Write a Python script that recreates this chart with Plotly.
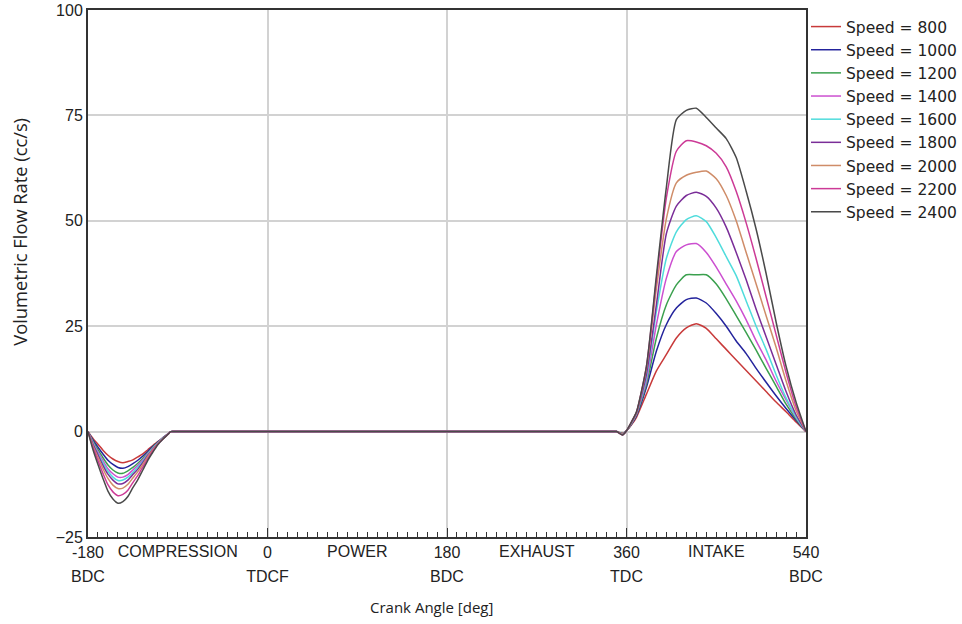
import plotly.graph_objects as go

# Crank angle samples (deg): compression dip, flat segment, intake stroke
crank_angle = [-180, -175, -170, -165, -160, -155, -150, -145, -140, -135, -130, -125, -120, -115, -110, -105, -100, -97, -90,
               340, 350, 356, 360, 365, 370, 380, 390, 400, 410, 420, 430, 440, 450, 460, 470, 480, 490, 500, 510, 520, 530, 540]

speeds = [800, 1000, 1200, 1400, 1600, 1800, 2000, 2200, 2400]
line_colors = ["#c83a3a", "#23239c", "#3aa04e", "#cc4fd0", "#4fdcdc",
               "#7a2d98", "#cf8c68", "#cc3a96", "#4a4a4a"]

# Volumetric flow rate (cc/s) for each engine speed
flow_800 = [0, -1.6, -3.0, -4.4, -5.6, -6.5, -7.1, -7.4, -7.1, -6.7, -6.0, -5.3, -4.3, -3.3, -2.4, -1.5, -0.6, 0, 0,
            0, 0, -0.4, 0.2, 1.6, 3.4, 8.9, 14.4, 18.3, 22.2, 24.6, 25.6, 24.5, 22.0, 19.5, 17.0, 14.5, 12.0, 9.5, 7.0, 4.7, 2.3, 0]
flow_1000 = [0, -2.0, -3.7, -5.3, -6.8, -7.8, -8.5, -8.7, -8.3, -7.6, -6.8, -5.8, -4.7, -3.5, -2.5, -1.5, -0.6, 0, 0,
             0, 0, -0.5, 0.2, 1.8, 3.8, 10.5, 19.1, 25.4, 29.3, 31.3, 31.7, 30.5, 28.0, 25.0, 21.5, 18.5, 15.0, 11.7, 8.5, 5.5, 2.7, 0]
flow_1200 = [0, -2.3, -4.3, -6.2, -7.9, -9.1, -9.8, -9.9, -9.3, -8.5, -7.5, -6.3, -5.0, -3.7, -2.6, -1.6, -0.6, 0, 0,
             0, 0, -0.5, 0.2, 1.9, 4.0, 11.2, 22.2, 30.1, 34.8, 37.2, 37.2, 37.2, 35.0, 31.5, 27.5, 23.5, 19.3, 15.0, 10.8, 6.5, 3.0, 0]
flow_1400 = [0, -2.6, -4.8, -6.9, -8.8, -10.0, -10.8, -10.8, -10.2, -9.1, -8.0, -6.7, -5.2, -3.9, -2.7, -1.6, -0.6, 0, 0,
             0, 0, -0.6, 0.2, 2.0, 4.2, 12.0, 25.4, 36.4, 42.7, 44.3, 44.6, 42.5, 39.0, 35.0, 31.0, 26.5, 21.5, 17.0, 12.0, 7.5, 3.3, 0]
flow_1600 = [0, -2.8, -5.2, -7.4, -9.4, -10.8, -11.6, -11.5, -10.8, -9.7, -8.4, -7.0, -5.4, -4.0, -2.7, -1.6, -0.6, 0, 0,
             0, 0, -0.6, 0.2, 2.0, 4.3, 12.8, 28.5, 41.1, 47.4, 50.3, 51.2, 49.8, 46.0, 41.5, 37.0, 31.0, 25.0, 19.5, 13.5, 8.0, 3.5, 0]
flow_1800 = [0, -3.0, -5.5, -8.0, -10.1, -11.5, -12.4, -12.3, -11.5, -10.2, -8.9, -7.3, -5.6, -4.2, -2.8, -1.7, -0.6, 0, 0,
             0, 0, -0.7, 0.2, 2.1, 4.4, 13.6, 30.1, 47.0, 53.5, 56.0, 56.8, 55.8, 53.0, 48.5, 42.5, 36.0, 29.0, 22.5, 16.0, 9.5, 4.0, 0]
flow_2000 = [0, -3.4, -6.1, -8.8, -11.1, -12.7, -13.5, -13.4, -12.5, -11.0, -9.5, -7.8, -5.9, -4.3, -2.9, -1.7, -0.7, 0, 0,
             0, 0, -0.7, 0.2, 2.2, 4.5, 15.0, 34.0, 50.5, 59.0, 60.8, 61.5, 61.8, 60.0, 56.0, 50.0, 42.5, 35.0, 27.5, 20.0, 12.0, 5.0, 0]
flow_2200 = [0, -3.8, -6.9, -9.9, -12.6, -14.3, -15.2, -14.9, -13.9, -12.1, -10.4, -8.4, -6.4, -4.6, -3.0, -1.8, -0.7, 0, 0,
             0, 0, -0.8, 0.2, 2.3, 4.6, 15.5, 36.0, 55.5, 66.5, 69.0, 68.7, 67.8, 66.0, 62.8, 57.0, 49.5, 41.0, 32.0, 23.0, 14.0, 6.0, 0]
flow_2400 = [0, -4.3, -7.8, -11.1, -14.1, -16.0, -17.0, -16.6, -15.4, -13.3, -11.4, -9.1, -6.8, -4.9, -3.1, -1.8, -0.7, 0, 0,
             0, 0, -0.8, 0.2, 2.3, 4.7, 15.5, 37.0, 58.0, 74.0, 76.2, 76.7, 74.5, 72.0, 69.5, 65.0, 57.0, 48.0, 37.5, 26.0, 15.5, 7.0, 0]

flows = [flow_800, flow_1000, flow_1200, flow_1400, flow_1600,
         flow_1800, flow_2000, flow_2200, flow_2400]

# Axis labelling
major_angles = [-180, 0, 180, 360, 540]
major_labels = ["-180", "0", "180", "360", "540"]
dead_centre_labels = ["BDC", "TDCF", "BDC", "TDC", "BDC"]
stroke_centres = [-90, 90, 270, 450]
stroke_names = ["COMPRESSION", "POWER", "EXHAUST", "INTAKE"]
flow_ticks = [-25, 0, 25, 50, 75, 100]

AXIS_FONT = "Liberation Sans, Arial, sans-serif"
LEGEND_FONT = "DejaVu Sans, Verdana, sans-serif"
TITLE_FONT = "Open Sans, Noto Sans, sans-serif"
FRAME = "#333333"
GRID = "#d2d2d2"

fig = go.Figure()
for spd, col, vals in zip(speeds, line_colors, flows):
    fig.add_trace(go.Scatter(
        x=crank_angle, y=vals, mode="lines",
        name=f"Speed = {spd}",
        line=dict(color=col, width=1.5, shape="spline", smoothing=0.6),
    ))

# Empty carriers so the stroke-name and dead-centre label axes are drawn
fig.add_trace(go.Scatter(x=stroke_centres, y=[None] * len(stroke_centres),
                         xaxis="x2", mode="lines", showlegend=False, hoverinfo="skip"))
fig.add_trace(go.Scatter(x=major_angles, y=[None] * len(major_angles),
                         xaxis="x3", mode="lines", showlegend=False, hoverinfo="skip"))

x_range = [crank_angle[0], crank_angle[-1]]

fig.update_layout(
    width=962, height=624,
    margin=dict(l=88, r=156, t=10, b=87, autoexpand=False),
    paper_bgcolor="white", plot_bgcolor="white",
    font=dict(family=AXIS_FONT, size=16, color="#222222"),
    legend=dict(x=1.0, xanchor="left", y=1.0, yanchor="top",
                font=dict(family=LEGEND_FONT, size=15.5, color="#222222"),
                bgcolor="rgba(255,255,255,0)", borderwidth=0,
                tracegroupgap=0, itemwidth=30),
    xaxis=dict(
        range=x_range, tickmode="array", tickvals=major_angles, ticktext=major_labels,
        ticks="inside", ticklen=9, tickwidth=1.2, tickcolor=FRAME,
        showline=True, linecolor=FRAME, linewidth=2, mirror=True,
        showgrid=True, gridcolor=GRID, gridwidth=1.5, zeroline=False,
        minor=dict(tickmode="linear", tick0=-180, dtick=10, ticks="inside",
                   ticklen=5, tickwidth=1, tickcolor=FRAME, showgrid=False),
        tickfont=dict(size=16),
    ),
    xaxis2=dict(
        overlaying="x", anchor="y", side="bottom", range=x_range,
        tickmode="array", tickvals=stroke_centres, ticktext=stroke_names,
        ticks="", showline=False, showgrid=False, zeroline=False,
        ticklabelstandoff=3, tickfont=dict(size=16),
    ),
    xaxis3=dict(
        overlaying="x", anchor="y", side="bottom", range=x_range,
        tickmode="array", tickvals=major_angles, ticktext=dead_centre_labels,
        ticks="", showline=False, showgrid=False, zeroline=False,
        ticklabelstandoff=28, tickfont=dict(size=16),
    ),
    yaxis=dict(
        range=[flow_ticks[0], flow_ticks[-1]], tickmode="array", tickvals=flow_ticks,
        ticks="", showline=True, linecolor=FRAME, linewidth=2, mirror=True,
        showgrid=True, gridcolor=GRID, gridwidth=1.5, zeroline=False,
        tickfont=dict(size=16),
    ),
    annotations=[
        dict(text="Crank Angle [deg]", xref="paper", yref="paper",
             x=0.478, y=-0.133, xanchor="center", yanchor="middle",
             showarrow=False, font=dict(family=TITLE_FONT, size=15, color="#222222")),
        dict(text="Volumetric Flow Rate (cc/s)", xref="paper", yref="paper",
             x=-0.095, y=0.579, xanchor="center", yanchor="middle", textangle=-90,
             showarrow=False, font=dict(family=TITLE_FONT, size=18.3, color="#222222")),
    ],
)

fig.write_html("out.html")
